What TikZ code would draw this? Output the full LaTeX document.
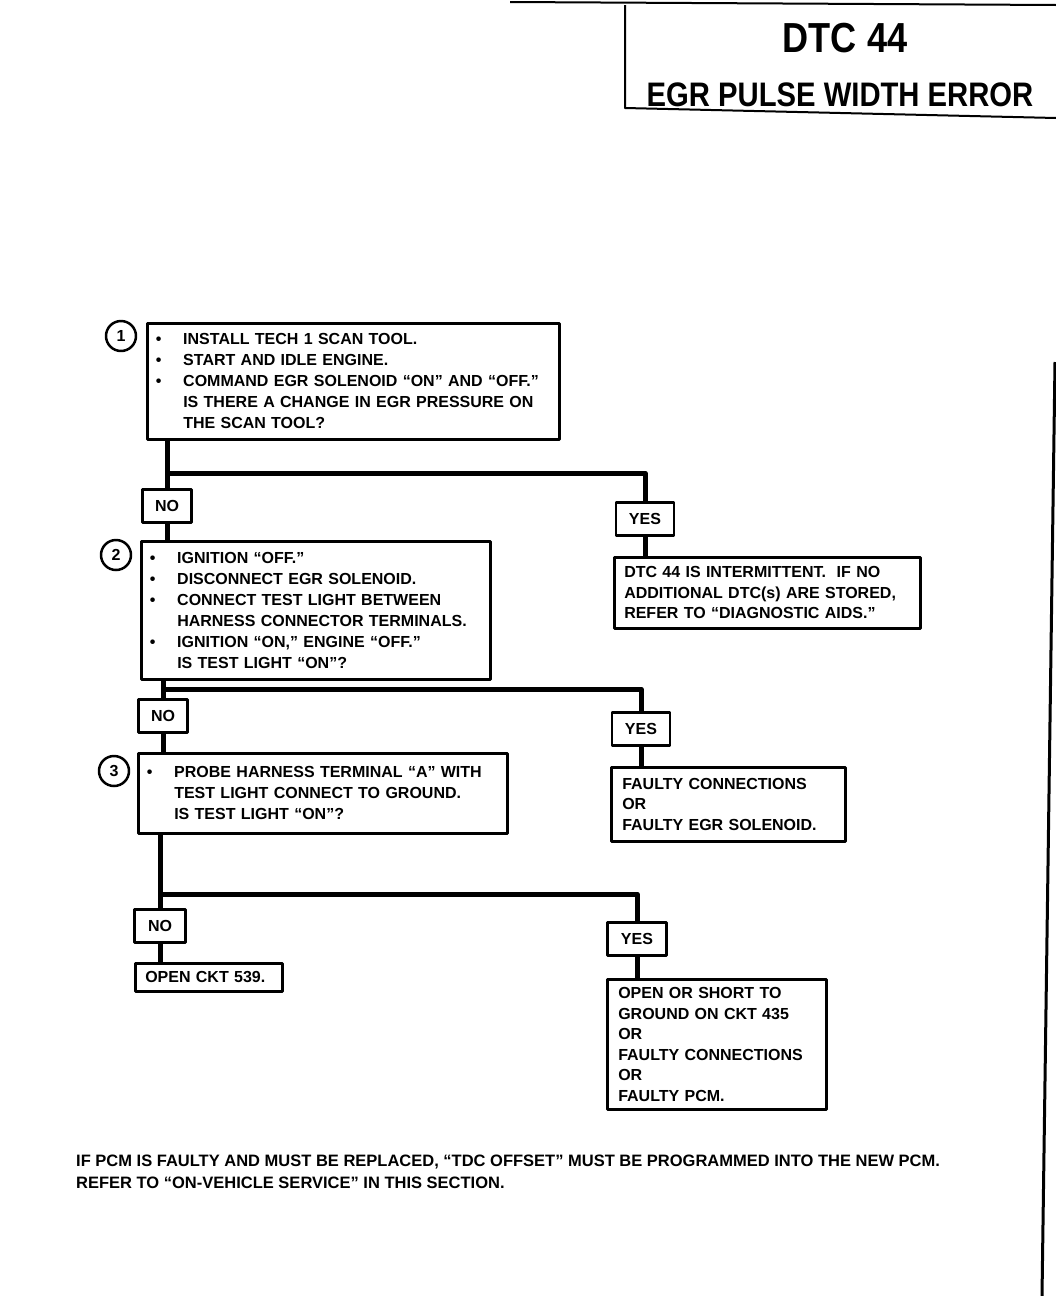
\documentclass[tikz,border=0pt]{standalone}
\usepackage{fontspec}
\setmainfont{Liberation Sans}
\newfontfamily\titlefont{Liberation Sans}[FakeStretch=0.86]
\usetikzlibrary{positioning}
\newcommand{\itm}{\makebox[28pt][l]{\hspace*{0.5pt}\textbullet}}
\newcommand{\cnt}{\hspace*{28pt}}
\tikzset{
  stepbox/.style={draw,line width=2.5pt,anchor=north west,align=left,inner xsep=8pt,inner ysep=0pt,
    font=\bfseries\fontsize{16}{21}\selectfont},
  resbox/.style={draw,line width=2.5pt,anchor=north west,align=left,inner xsep=11pt,inner ysep=0pt,
    font=\bfseries\fontsize{16}{20.5}\selectfont},
  lbl/.style={draw,line width=2.5pt,minimum height=33pt,inner xsep=4pt,
    font=\bfseries\fontsize{16}{16}\selectfont},
  num/.style={circle,draw,line width=2.5pt,minimum size=30pt,inner sep=0pt,
    font=\bfseries\fontsize{16}{16}\selectfont},
  bus/.style={line width=5pt}
}
\begin{document}
\begin{tikzpicture}[x=1pt,y=-1pt,line join=round]
\useasboundingbox (0,0) rectangle (1056,1296);
% title block
\draw[line width=2pt] (510,2) -- (1056,5);
\draw[line width=2pt] (625,5) -- (625,108) -- (1056,118);
\node[font=\titlefont\bfseries\fontsize{42}{42}\selectfont] (dtc) at (845,38) {DTC 44};
\node[font=\titlefont\bfseries\fontsize{34}{34}\selectfont] (title) at (840,95) {EGR PULSE WIDTH ERROR};
\draw[line width=3pt] (1055,362) -- (1042,1296);

% step 1
\node[num] (n1) at (121,336) {1};
\node[stepbox,text width=396pt,minimum height=116pt] (s1) at (146,322)
  {\itm INSTALL TECH 1 SCAN TOOL.\\
   \itm START AND IDLE ENGINE.\\
   \itm COMMAND EGR SOLENOID “ON” AND “OFF.”\\
   \cnt IS THERE A CHANGE IN EGR PRESSURE ON\\
   \cnt THE SCAN TOOL?};
\node[lbl,minimum width=49pt] (no1) at (167,506) {NO};
\node[lbl,minimum width=58pt] (yes1) at (645,519) {YES};
\node[resbox,inner xsep=10pt,text width=286pt,minimum height=71pt] (r1) at (613,556)
  {DTC 44 IS INTERMITTENT.\ \ IF NO\\
   ADDITIONAL DTC(s) ARE STORED,\\
   REFER TO “DIAGNOSTIC AIDS.”};

% step 2
\node[num] (n2) at (116,555) {2};
\node[stepbox,text width=333pt,minimum height=138pt] (s2) at (140,540)
  {\itm IGNITION “OFF.”\\
   \itm DISCONNECT EGR SOLENOID.\\
   \itm CONNECT TEST LIGHT BETWEEN\\
   \cnt HARNESS CONNECTOR TERMINALS.\\
   \itm IGNITION “ON,” ENGINE “OFF.”\\
   \cnt IS TEST LIGHT “ON”?};
\node[lbl,minimum width=49pt] (no2) at (163,716) {NO};
\node[lbl,minimum width=58pt] (yes2) at (641,729) {YES};
\node[resbox,text width=212pt,minimum height=74pt] (r2) at (610,766)
  {FAULTY CONNECTIONS\\
   OR\\
   FAULTY EGR SOLENOID.};

% step 3
\node[num] (n3) at (114,771) {3};
\node[stepbox,text width=353pt,minimum height=80pt] (s3) at (137,752)
  {\itm PROBE HARNESS TERMINAL “A” WITH\\
   \cnt TEST LIGHT CONNECT TO GROUND.\\
   \cnt IS TEST LIGHT “ON”?};
\node[lbl,minimum width=51pt] (no3) at (160,926) {NO};
\node[lbl,minimum width=59pt] (yes3) at (637,939) {YES};
\node[resbox,inner xsep=10pt,text width=127pt,minimum height=28pt] (r3) at (134,962) {OPEN CKT 539.};
\node[resbox,text width=197pt,minimum height=130pt] (r4) at (606,978)
  {OPEN OR SHORT TO\\
   GROUND ON CKT 435\\
   OR\\
   FAULTY CONNECTIONS\\
   OR\\
   FAULTY PCM.};

% connectors
\coordinate (j1) at (167,473);
\coordinate (j2) at (163,689);
\coordinate (j3) at (160,894);
\draw[bus] (s1.south -| no1.north) -- (no1.north);
\draw[bus] (j1) -| (yes1.north);
\draw[bus] (no1.south) -- (no1.south |- s2.north);
\draw[bus] (yes1.south) -- (yes1.south |- r1.north);
\draw[bus] (s2.south -| no2.north) -- (no2.north);
\draw[bus] (j2) -| (yes2.north);
\draw[bus] (no2.south) -- (no2.south |- s3.north);
\draw[bus] (yes2.south) -- (yes2.south |- r2.north);
\draw[bus] (s3.south -| no3.north) -- (no3.north);
\draw[bus] (j3) -| (yes3.north);
\draw[bus] (no3.south) -- (no3.south |- r3.north);
\draw[bus] (yes3.south) -- (yes3.south |- r4.north);

% note
\node[anchor=north west,align=left,inner sep=0pt,font=\bfseries\fontsize{16.5}{22}\selectfont] (note) at (76,1155)
  {IF PCM IS FAULTY AND MUST BE REPLACED, “TDC OFFSET” MUST BE PROGRAMMED INTO THE NEW PCM.\\
   REFER TO “ON-VEHICLE SERVICE” IN THIS SECTION.};
\end{tikzpicture}
\end{document}
